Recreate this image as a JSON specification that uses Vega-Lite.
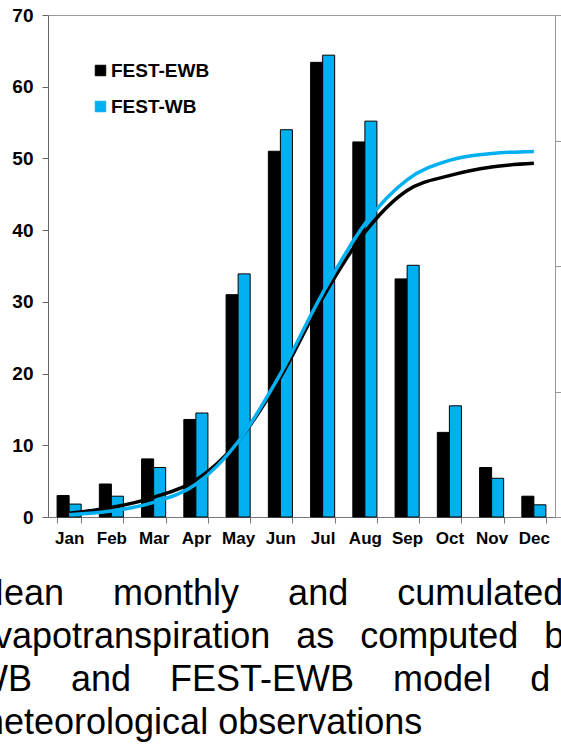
{
  "$schema": "https://vega.github.io/schema/vega-lite/v6.json",
  "width": 507,
  "height": 502,
  "autosize": "none",
  "padding": {"left": 48, "top": 15, "right": 6, "bottom": 238},
  "background": "white",
  "config": {
    "font": "Liberation Sans",
    "view": {"stroke": "#9a9a9a", "strokeWidth": 1}
  },
  "title": {
    "text": [
      "Mean\u2003\u00a0\u200amonthly\u2003\u00a0\u200aand\u2003\u00a0\u200acumulated",
      "evapotranspiration\u00a0\u00a0\u2006as\u00a0\u00a0\u2006computed\u00a0\u00a0\u2006by",
      "WB\u2003\u200aand\u2003\u200aFEST-EWB\u2003\u200amodel\u2003\u200ad",
      "meteorological observations"
    ],
    "orient": "bottom",
    "anchor": "start",
    "frame": "group",
    "dx": -74,
    "offset": 31,
    "baseline": "top",
    "fontSize": 36,
    "fontWeight": "normal",
    "lineHeight": 43,
    "color": "black",
    "font": "Liberation Sans"
  },
  "data": {
    "values": [
      {"month": "Jan", "series": "FEST-EWB", "et": 3.0, "cum": 3.0},
      {"month": "Feb", "series": "FEST-EWB", "et": 4.6, "cum": 7.6},
      {"month": "Mar", "series": "FEST-EWB", "et": 8.1, "cum": 15.7},
      {"month": "Apr", "series": "FEST-EWB", "et": 13.6, "cum": 29.3},
      {"month": "May", "series": "FEST-EWB", "et": 31.0, "cum": 60.3},
      {"month": "Jun", "series": "FEST-EWB", "et": 51.0, "cum": 111.3},
      {"month": "Jul", "series": "FEST-EWB", "et": 63.4, "cum": 174.7},
      {"month": "Aug", "series": "FEST-EWB", "et": 52.3, "cum": 227.0},
      {"month": "Sep", "series": "FEST-EWB", "et": 33.2, "cum": 260.2},
      {"month": "Oct", "series": "FEST-EWB", "et": 11.8, "cum": 272.0},
      {"month": "Nov", "series": "FEST-EWB", "et": 6.9, "cum": 278.9},
      {"month": "Dec", "series": "FEST-EWB", "et": 2.9, "cum": 281.8},
      {"month": "Jan", "series": "FEST-WB", "et": 1.8, "cum": 1.8},
      {"month": "Feb", "series": "FEST-WB", "et": 2.9, "cum": 4.7},
      {"month": "Mar", "series": "FEST-WB", "et": 6.9, "cum": 11.6},
      {"month": "Apr", "series": "FEST-WB", "et": 14.5, "cum": 26.1},
      {"month": "May", "series": "FEST-WB", "et": 33.9, "cum": 60.0},
      {"month": "Jun", "series": "FEST-WB", "et": 54.0, "cum": 114.0},
      {"month": "Jul", "series": "FEST-WB", "et": 64.4, "cum": 178.4},
      {"month": "Aug", "series": "FEST-WB", "et": 55.2, "cum": 233.6},
      {"month": "Sep", "series": "FEST-WB", "et": 35.1, "cum": 268.7},
      {"month": "Oct", "series": "FEST-WB", "et": 15.5, "cum": 284.2},
      {"month": "Nov", "series": "FEST-WB", "et": 5.4, "cum": 289.6},
      {"month": "Dec", "series": "FEST-WB", "et": 1.7, "cum": 291.3}
    ]
  },
  "layer": [
    {
      "mark": {"type": "bar", "stroke": "black", "strokeWidth": 1},
      "encoding": {
        "x": {
          "field": "month",
          "type": "nominal",
          "sort": ["Jan", "Feb", "Mar", "Apr", "May", "Jun", "Jul", "Aug", "Sep", "Oct", "Nov", "Dec"],
          "scale": {"paddingInner": 0.43, "paddingOuter": 0.215},
          "axis": {
            "title": null,
            "labelAngle": 0,
            "tickBand": "extent",
            "tickSize": 6,
            "tickColor": "#777",
            "domainColor": "#777",
            "labelFontSize": 17,
            "labelFontWeight": "bold",
            "labelColor": "black",
            "labelPadding": 7,
            "grid": false
          }
        },
        "xOffset": {"field": "series", "type": "nominal", "sort": ["FEST-EWB", "FEST-WB"]},
        "y": {
          "field": "et",
          "type": "quantitative",
          "scale": {"domain": [0, 70]},
          "axis": {
            "title": null,
            "values": [0, 10, 20, 30, 40, 50, 60, 70],
            "grid": false,
            "tickSize": 6,
            "tickColor": "#666",
            "domainColor": "#666",
            "labelFontSize": 19,
            "labelFontWeight": "bold",
            "labelColor": "black",
            "labelPadding": 9
          }
        },
        "color": {
          "field": "series",
          "type": "nominal",
          "scale": {"domain": ["FEST-EWB", "FEST-WB"], "range": ["#000000", "#00B0F0"]},
          "legend": {
            "title": null,
            "orient": "none",
            "legendX": 43,
            "legendY": 46,
            "symbolType": "square",
            "symbolSize": 110,
            "symbolStrokeColor": "black",
            "symbolStrokeWidth": 1,
            "labelFontSize": 19,
            "labelFontWeight": "bold",
            "labelColor": "black",
            "labelOffset": 1,
            "rowPadding": 16
          }
        }
      }
    },
    {
      "mark": {"type": "line", "interpolate": "monotone", "strokeWidth": 3.5},
      "encoding": {
        "x": {
          "field": "month",
          "type": "nominal",
          "sort": ["Jan", "Feb", "Mar", "Apr", "May", "Jun", "Jul", "Aug", "Sep", "Oct", "Nov", "Dec"]
        },
        "y": {
          "field": "cum",
          "type": "quantitative",
          "scale": {"domain": [0, 400]},
          "axis": {
            "orient": "right",
            "title": null,
            "values": [0, 100, 200, 300, 400],
            "labels": false,
            "grid": false,
            "tickSize": 6,
            "tickColor": "#999",
            "domainColor": "#999"
          }
        },
        "stroke": {
          "field": "series",
          "type": "nominal",
          "scale": {"domain": ["FEST-EWB", "FEST-WB"], "range": ["#000000", "#00B0F0"]},
          "legend": null
        }
      }
    }
  ],
  "resolve": {"scale": {"y": "independent"}}
}
